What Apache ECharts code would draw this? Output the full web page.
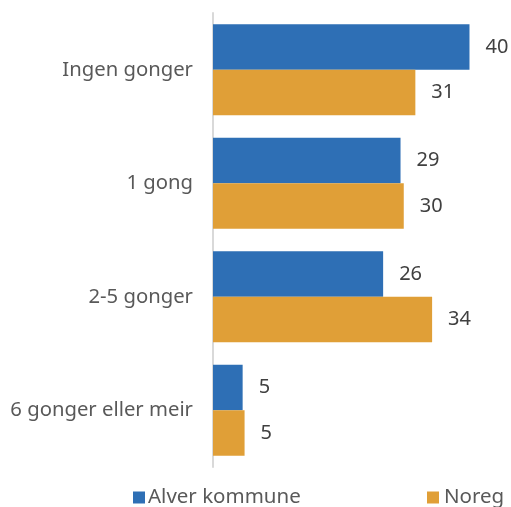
<!DOCTYPE html>
<html>
<head>
<meta charset="utf-8">
<script src="https://cdn.jsdelivr.net/npm/echarts@6/dist/echarts.min.js"></script>
<style>
  html, body { margin: 0; padding: 0; background: #fff; }
  #chart { width: 511px; height: 507px; }
</style>
</head>
<body>
<div id="chart"></div>
<script>
// kategoriar, øvst til nedst
var categories = ['Ingen gonger', '1 gong', '2-5 gonger', '6 gonger eller meir'];
var seriesNames = ['Alver kommune', 'Noreg'];
var alverValues = [39.8, 29.1, 26.4, 4.6];
var noregValues = [31.4, 29.6, 34.0, 4.9];

var textFont = '"Noto Sans", sans-serif';
var labelStyle = {
    show: true,
    position: 'right',
    distance: 16,
    color: '#404040',
    fontSize: 20,
    fontFamily: textFont,
    formatter: function (p) { return Math.round(p.value); }
};

var myChart = echarts.init(document.getElementById('chart'));
myChart.setOption({
    animation: false,
    grid: {
        left: 213,
        top: 13,
        width: 290,
        height: 454
    },
    legend: [
        {
            data: [seriesNames[0]],
            left: 133,
            top: 487,
            padding: 0,
            itemWidth: 12,
            itemHeight: 12,
            icon: 'rect',
            textStyle: { color: '#595959', fontSize: 20.5, fontFamily: textFont, padding: [0, 0, 0, -2] }
        },
        {
            data: [seriesNames[1]],
            left: 427,
            top: 487,
            padding: 0,
            itemWidth: 12,
            itemHeight: 12,
            icon: 'rect',
            textStyle: { color: '#595959', fontSize: 20.5, fontFamily: textFont, padding: [0, 0, 0, 0] }
        }
    ],
    xAxis: {
        type: 'value',
        min: 0,
        max: 45,
        show: false
    },
    yAxis: {
        type: 'category',
        data: categories,
        inverse: true,
        axisLine: { show: true, lineStyle: { color: '#d9d9d9', width: 2 } },
        axisTick: { show: false },
        axisLabel: {
            margin: 20,
            color: '#595959',
            fontSize: 20.3,
            fontFamily: textFont
        }
    },
    series: [
        {
            name: seriesNames[0],
            type: 'bar',
            data: alverValues,
            barGap: '0%',
            barCategoryGap: '20%',
            itemStyle: { color: '#2e6fb5' },
            label: labelStyle
        },
        {
            name: seriesNames[1],
            type: 'bar',
            data: noregValues,
            barGap: '0%',
            barCategoryGap: '20%',
            itemStyle: { color: '#e09f37' },
            label: labelStyle
        }
    ]
});
</script>
</body>
</html>
